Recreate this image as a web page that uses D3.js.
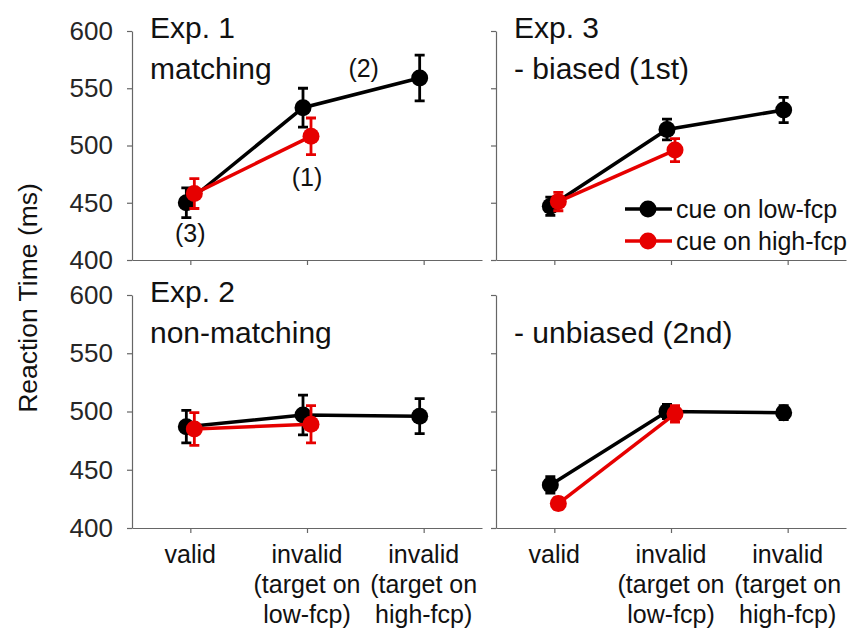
<!DOCTYPE html>
<html>
<head>
<meta charset="utf-8">
<script src="https://cdn.jsdelivr.net/npm/d3@7"></script>
<style>
  body { margin: 0; background: #fff; }
  text { font-family: "Liberation Sans", Arial, sans-serif; }
</style>
</head>
<body>
<div id="chart"></div>
<script>
// conditions on the x axis (each label is several lines)
const conditions = [
  ["valid"],
  ["invalid", "(target on", "low-fcp)"],
  ["invalid", "(target on", "high-fcp)"]
];
const yTicks = [400, 450, 500, 550, 600];
const seriesNames = ["cue on low-fcp", "cue on high-fcp"];

// Exp. 1 matching
const exp1Low = [450, 533, 559];
const exp1LowErr = [13, 17, 20];
const exp1High = [458, 508];
const exp1HighErr = [13, 16];

// Exp. 3 biased (1st)
const exp3bLow = [447, 514, 531];
const exp3bLowErr = [8, 9, 11];
const exp3bHigh = [451, 496];
const exp3bHighErr = [8, 10];

// Exp. 2 non-matching
const exp2Low = [487, 497, 496];
const exp2LowErr = [14, 17, 15];
const exp2High = [485, 489];
const exp2HighErr = [14, 16];

// Exp. 3 unbiased (2nd)
const exp3uLow = [437, 500, 499];
const exp3uLowErr = [7, 6, 6];
const exp3uHigh = [421, 498];
const exp3uHighErr = [5, 7];

const W = 848, H = 632;
const colors = ["#000000", "#e60000"];

const svg = d3.select("#chart").append("svg")
  .attr("width", W).attr("height", H);

const panels = [
  { x0: 132, x1: 482, y0: 260, y1: 31, low: exp1Low, lowErr: exp1LowErr, high: exp1High, highErr: exp1HighErr,
    title: ["Exp. 1", "matching"], yLabels: true, xLabels: false },
  { x0: 496, x1: 846, y0: 260, y1: 31, low: exp3bLow, lowErr: exp3bLowErr, high: exp3bHigh, highErr: exp3bHighErr,
    title: ["Exp. 3", "- biased (1st)"], yLabels: false, xLabels: false, legend: true },
  { x0: 132, x1: 482, y0: 528, y1: 295, low: exp2Low, lowErr: exp2LowErr, high: exp2High, highErr: exp2HighErr,
    title: ["Exp. 2", "non-matching"], yLabels: true, xLabels: true },
  { x0: 496, x1: 846, y0: 528, y1: 295, low: exp3uLow, lowErr: exp3uLowErr, high: exp3uHigh, highErr: exp3uHighErr,
    title: ["", "- unbiased (2nd)"], yLabels: false, xLabels: true }
];

panels.forEach((p, pi) => {
  const x = d3.scaleLinear().domain([0.5, 3.5]).range([p.x0, p.x1]);
  const y = d3.scaleLinear().domain([400, 600]).range([p.y0, p.y1]);
  const g = svg.append("g");

  // axes
  const ya = g.append("g")
    .attr("transform", `translate(${p.x0},0)`)
    .call(d3.axisLeft(y).tickValues(yTicks).tickSize(5).tickSizeOuter(0).tickPadding(14)
      .tickFormat(p.yLabels ? d3.format("d") : () => ""));
  const xa = g.append("g")
    .attr("transform", `translate(0,${p.y0})`)
    .call(d3.axisBottom(x).tickValues([1, 2, 3]).tickSize(5).tickSizeOuter(0).tickFormat(() => ""));
  [ya, xa].forEach(a => {
    a.select(".domain").attr("stroke", "#666").attr("stroke-width", 1.2);
    a.selectAll(".tick line").attr("stroke", "#666").attr("stroke-width", 1.2);
    a.selectAll(".tick text").attr("font-size", 26).attr("fill", "#262626")
      .attr("font-family", "Liberation Sans, Arial, sans-serif");
  });

  if (p.xLabels) {
    const lab = g.append("g").selectAll("text")
      .data(conditions)
      .join("text")
      .attr("x", (d, i) => x(i + 1))
      .attr("y", p.y0 + 35)
      .attr("text-anchor", "middle")
      .attr("font-size", 25)
      .attr("fill", "#111");
    lab.selectAll("tspan")
      .data(d => d)
      .join("tspan")
      .attr("x", function () { return d3.select(this.parentNode).attr("x"); })
      .attr("dy", (d, i) => i === 0 ? 0 : 30)
      .text(d => d);
  }

  // titles
  g.append("text").attr("x", p.x0 + 18).attr("y", p.y1 + 7)
    .attr("font-size", 30).attr("fill", "#111").text(p.title[0]);
  g.append("text").attr("x", p.x0 + 18).attr("y", p.y1 + 48)
    .attr("font-size", 30).attr("fill", "#111").text(p.title[1]);

  // series
  const series = [
    { vals: p.low, err: p.lowErr, color: colors[0], off: -4 },
    { vals: p.high, err: p.highErr, color: colors[1], off: 4 }
  ];
  series.forEach(s => {
    const pts = s.vals.map((v, i) => ({ i: i + 1, v, e: s.err[i] }));
    const sg = g.append("g");
    sg.append("path")
      .datum(pts)
      .attr("fill", "none")
      .attr("stroke", s.color)
      .attr("stroke-width", 3.5)
      .attr("d", d3.line().x(d => x(d.i) + s.off).y(d => y(d.v)));
    sg.selectAll(".eb").data(pts).join("path")
      .attr("class", "eb")
      .attr("fill", "none")
      .attr("stroke", s.color)
      .attr("stroke-width", 2.8)
      .attr("d", d => {
        const cx = x(d.i) + s.off, t = y(d.v + d.e), b = y(d.v - d.e);
        return `M${cx - 5},${t}H${cx + 5}M${cx},${t}V${b}M${cx - 5},${b}H${cx + 5}`;
      });
    sg.selectAll("circle").data(pts).join("circle")
      .attr("cx", d => x(d.i) + s.off)
      .attr("cy", d => y(d.v))
      .attr("r", 8.5)
      .attr("fill", s.color);
  });

  if (pi === 0) {
    // point annotations
    const notes = [
      { t: "(3)", i: 1, v: 450, dx: 0, dy: 39 },
      { t: "(1)", i: 2, v: 508, dx: 0, dy: 50 },
      { t: "(2)", i: 3, v: 559, dx: -60, dy: -1 }
    ];
    g.selectAll(".note").data(notes).join("text")
      .attr("class", "note")
      .attr("x", d => x(d.i) + d.dx)
      .attr("y", d => y(d.v) + d.dy)
      .attr("text-anchor", "middle")
      .attr("font-size", 25)
      .attr("fill", "#111")
      .text(d => d.t);
  }

  if (p.legend) {
    const lg = g.append("g").attr("transform", "translate(625,209)");
    seriesNames.forEach((n, k) => {
      const row = lg.append("g").attr("transform", `translate(0,${k * 32})`);
      row.append("line").attr("x1", 0).attr("x2", 47).attr("stroke", colors[k]).attr("stroke-width", 3.5);
      row.append("circle").attr("cx", 23).attr("r", 8.5).attr("fill", colors[k]);
      row.append("text").attr("x", 51).attr("dy", "0.35em").attr("font-size", 25)
        .attr("fill", "#111").text(n);
    });
  }
});

// y axis title
svg.append("text")
  .attr("transform", "translate(37,298) rotate(-90)")
  .attr("text-anchor", "middle")
  .attr("font-size", 26.5)
  .attr("fill", "#111")
  .text("Reaction Time (ms)");
</script>
</body>
</html>
